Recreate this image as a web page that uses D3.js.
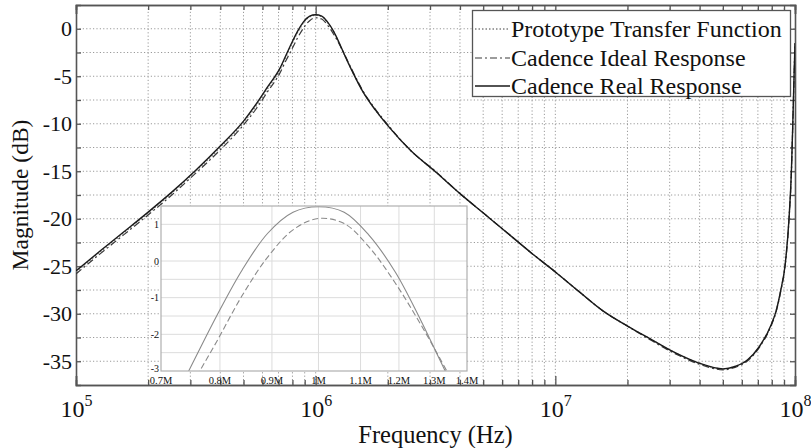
<!DOCTYPE html>
<html><head><meta charset="utf-8">
<script src="https://cdn.jsdelivr.net/npm/d3@7"></script>
<style>
body{margin:0;background:#fff}
svg{display:block}
text{font-family:"Liberation Serif","Times New Roman",serif;fill:#111}
</style>
</head><body>
<svg id="c" width="811" height="448"></svg>
<script>
// ---- data ----
const freqHz = [1.00e5,1.26e5,1.58e5,2.00e5,2.51e5,3.16e5,3.98e5,5.01e5,5.62e5,6.31e5,
  7.08e5,7.50e5,7.94e5,8.41e5,8.91e5,9.44e5,1.00e6,1.06e6,1.12e6,1.19e6,1.26e6,1.33e6,1.41e6,
  1.58e6,1.78e6,2.00e6,2.51e6,3.16e6,3.98e6,5.01e6,6.31e6,7.94e6,1.00e7,1.26e7,1.58e7,2.00e7,
  2.51e7,3.16e7,3.98e7,5.01e7,5.62e7,6.31e7,7.08e7,7.94e7,8.32e7,8.71e7,9.12e7,9.44e7,9.66e7,
  9.79e7,9.91e7,1.00e8];
const realDb = [-25.5,-23.4,-21.4,-19.3,-17.2,-14.9,-12.4,-9.7,-8.0,-6.1,
  -4.2,-2.85,-1.5,-0.25,0.75,1.33,1.48,1.33,0.72,-0.3,-1.6,-2.95,-4.3,
  -6.7,-8.6,-10.2,-12.9,-15.05,-17.3,-19.4,-21.5,-23.6,-25.6,-27.7,-29.7,-31.3,
  -32.7,-34.1,-35.2,-35.8,-35.55,-34.9,-33.5,-31.2,-29.8,-27.6,-24.6,-20.0,-15.0,
  -10.0,-5.0,-1.5];
const idealDb = [-25.8,-23.7,-21.7,-19.6,-17.5,-15.2,-12.8,-10.1,-8.5,-6.6,
  -4.7,-3.4,-2.2,-0.95,0.1,0.85,1.16,1.02,0.4,-0.6,-1.72,-2.88,-4.2,
  -6.6,-8.5,-10.1,-12.9,-15.0,-17.3,-19.4,-21.5,-23.6,-25.6,-27.7,-29.7,-31.3,
  -32.8,-34.2,-35.3,-35.9,-35.65,-35.0,-33.6,-31.3,-29.9,-27.7,-24.7,-20.1,-15.1,
  -10.1,-5.1,-1.6];
const protoDb = [-25.6,-23.5,-21.5,-19.4,-17.3,-15.0,-12.55,-9.85,-8.2,-6.3,
  -4.35,-3.0,-1.65,-0.4,0.65,1.25,1.42,1.28,0.66,-0.35,-1.65,-2.95,-4.3,
  -6.7,-8.6,-10.2,-12.9,-15.05,-17.3,-19.4,-21.5,-23.6,-25.6,-27.7,-29.7,-31.3,
  -32.7,-34.1,-35.2,-35.8,-35.55,-34.9,-33.5,-31.2,-29.8,-27.6,-24.6,-20.0,-15.0,
  -10.0,-5.0,-1.5];
const seriesNames = ["Prototype Transfer Function","Cadence Ideal Response","Cadence Real Response"];
const yTickLabels = [0,-5,-10,-15,-20,-25,-30,-35];
const yMinorTicks = [0,-2.5,-5,-7.5,-10,-12.5,-15,-17.5,-20,-22.5,-25,-27.5,-30,-32.5,-35];
const xDecades = [1e5,1e6,1e7,1e8];
const xMultipliers = [2,3,4,5,6,7,8,9];
const insetXTicks = [0.7e6,0.8e6,0.9e6,1.0e6,1.1e6,1.2e6,1.3e6,1.4e6];
const insetXLabels = ["0.7M","0.8M","0.9M","1M","1.1M","1.2M","1.3M","1.4M"];
const insetYLabels = [1,0,-1,-2,-3];
const insetYGrid = [1,0.5,0,-0.5,-1,-1.5,-2,-2.5];

// ---- layout ----
const svg = d3.select("#c");
const L = 76, R = 795, T = 5, B = 385;
const x = d3.scaleLog().domain([1e5,1e8]).range([L,R]);
const y = d3.scaleLinear().domain([-37.5,2.5]).range([B,T]);
const minorX = [];
xDecades.slice(0,3).forEach(d => xMultipliers.forEach(k => minorX.push(k*d)));
const gridX = minorX.concat([1e6,1e7]);

// grid
const grid = svg.append("g").attr("stroke","#9a9a9a").attr("stroke-width",1).attr("stroke-dasharray","1.2,2.2");
grid.selectAll("line.v").data(gridX).join("line").attr("class","v")
  .attr("x1",d=>x(d)).attr("x2",d=>x(d)).attr("y1",T).attr("y2",B);
grid.selectAll("line.h").data(yMinorTicks).join("line").attr("class","h")
  .attr("x1",L).attr("x2",R).attr("y1",d=>y(d)).attr("y2",d=>y(d));

// axes
function styleAxis(g){ g.selectAll("path,line").attr("stroke","#555").attr("stroke-width",1.3); }
svg.append("g").attr("transform",`translate(0,${B})`)
  .call(d3.axisBottom(x).tickValues(minorX).tickSize(-5).tickFormat("")).call(styleAxis);
const xb = svg.append("g").attr("transform",`translate(0,${B})`)
  .call(d3.axisBottom(x).tickValues(xDecades).tickSize(-9)).call(styleAxis);
xb.selectAll(".tick text").text(null).attr("y",32).attr("dy",0)
  .attr("font-size",24).attr("fill","#111").attr("text-anchor","middle")
  .each(function(d){
    const t = d3.select(this);
    t.append("tspan").text("10");
    t.append("tspan").attr("dy",-11).attr("font-size",16).text(Math.round(Math.log10(d)));
  });
svg.append("g").attr("transform",`translate(0,${T})`)
  .call(d3.axisTop(x).tickValues(minorX).tickSize(-5).tickFormat("")).call(styleAxis);
svg.append("g").attr("transform",`translate(0,${T})`)
  .call(d3.axisTop(x).tickValues(xDecades).tickSize(-9).tickFormat("")).call(styleAxis);
const yl = svg.append("g").attr("transform",`translate(${L},0)`)
  .call(d3.axisLeft(y).tickValues(yMinorTicks).tickSize(-5).tickPadding(4)
    .tickFormat(d => yTickLabels.includes(d) ? String(d) : "")).call(styleAxis);
yl.selectAll(".tick text").attr("font-size",22).attr("fill","#111").style("font-family","Liberation Serif");
svg.append("g").attr("transform",`translate(${R},0)`)
  .call(d3.axisRight(y).tickValues(yMinorTicks).tickSize(-5).tickFormat("")).call(styleAxis);
svg.selectAll(".domain").attr("stroke","#555").attr("stroke-width",1.6);

// curves
svg.append("clipPath").attr("id","mainclip").append("rect")
  .attr("x",L).attr("y",T).attr("width",R-L).attr("height",B-T);
const idx = d3.range(freqHz.length);
const line = arr => d3.line().x(i=>x(freqHz[i])).y(i=>y(arr[i])).curve(d3.curveMonotoneX)(idx);
const curves = svg.append("g").attr("clip-path","url(#mainclip)").attr("fill","none");
curves.append("path").attr("d",line(protoDb)).attr("stroke","#808080").attr("stroke-width",1.3).attr("stroke-dasharray","1.5,2");
curves.append("path").attr("d",line(idealDb)).attr("stroke","#3a3a3a").attr("stroke-width",1.2).attr("stroke-dasharray","7,3,2,3");
curves.append("path").attr("d",line(realDb)).attr("stroke","#1a1a1a").attr("stroke-width",1.4);

// legend
const lg = svg.append("g");
lg.append("rect").attr("x",472.5).attr("y",10.5).attr("width",318).attr("height",86)
  .attr("fill","#fff").attr("stroke","#555").attr("stroke-width",1.3);
const legStyles = [
  {stroke:"#808080",dash:"1.5,2",w:1.3},
  {stroke:"#3a3a3a",dash:"7,3,2,3",w:1.2},
  {stroke:"#1a1a1a",dash:null,w:1.4}];
const legBase = [37,66,94];
seriesNames.forEach((n,i)=>{
  lg.append("line").attr("x1",475).attr("x2",510).attr("y1",legBase[i]-8).attr("y2",legBase[i]-8)
    .attr("stroke",legStyles[i].stroke).attr("stroke-width",legStyles[i].w)
    .attr("stroke-dasharray",legStyles[i].dash);
  lg.append("text").attr("x",511).attr("y",legBase[i]).attr("font-size",24).text(n);
});

// axis titles
svg.append("text").attr("x",(L+R)/2).attr("y",443).attr("text-anchor","middle").attr("font-size",24.5).text("Frequency (Hz)");
svg.append("text").attr("transform",`translate(28,${(T+B)/2}) rotate(-90)`).attr("text-anchor","middle").attr("font-size",23.5).text("Magnitude (dB)");

// inset
const IL = 161, IR = 467, IT = 206, IB = 371;
const xi = d3.scaleLog().domain([0.7e6,1.4e6]).range([IL,IR]);
const yi = d3.scaleLinear().domain([-3,1.5]).range([IB,IT]);
const ins = svg.append("g");
ins.append("rect").attr("x",IL).attr("y",IT).attr("width",IR-IL).attr("height",IB-IT).attr("fill","#fff");
ins.selectAll("line.v").data(insetXTicks.slice(1,-1)).join("line").attr("class","v")
  .attr("x1",d=>xi(d)).attr("x2",d=>xi(d)).attr("y1",IT).attr("y2",IB).attr("stroke","#dcdcdc");
ins.selectAll("line.h").data(insetYGrid).join("line").attr("class","h")
  .attr("x1",IL).attr("x2",IR).attr("y1",d=>yi(d)).attr("y2",d=>yi(d)).attr("stroke","#dcdcdc");
svg.append("clipPath").attr("id","insclip").append("rect")
  .attr("x",IL).attr("y",IT).attr("width",IR-IL).attr("height",IB-IT);
const iline = arr => d3.line().x(i=>xi(freqHz[i])).y(i=>yi(arr[i])).curve(d3.curveCatmullRom.alpha(0.5))(idx.filter(i=>freqHz[i]>=5e5&&freqHz[i]<=2e6));
const ic = ins.append("g").attr("clip-path","url(#insclip)").attr("fill","none");
ic.append("path").attr("d",iline(idealDb)).attr("stroke","#8a8a8a").attr("stroke-width",1.1).attr("stroke-dasharray","6,3");
ic.append("path").attr("d",iline(realDb)).attr("stroke","#8a8a8a").attr("stroke-width",1.1);
ins.append("rect").attr("x",IL).attr("y",IT).attr("width",IR-IL).attr("height",IB-IT)
  .attr("fill","none").attr("stroke","#b0b0b0").attr("stroke-width",1.2);
ins.selectAll("text.xl").data(insetXTicks).join("text").attr("class","xl")
  .attr("x",d=>xi(d)).attr("y",384).attr("text-anchor","middle").attr("font-size",10.5).attr("fill","#444")
  .text((d,i)=>insetXLabels[i]);
ins.selectAll("text.yl").data(insetYLabels).join("text").attr("class","yl")
  .attr("x",159).attr("y",d=>Math.min(yi(d)+3.5,372)).attr("text-anchor","end").attr("font-size",10).attr("fill","#444")
  .text(d=>d);
</script>
</body></html>
